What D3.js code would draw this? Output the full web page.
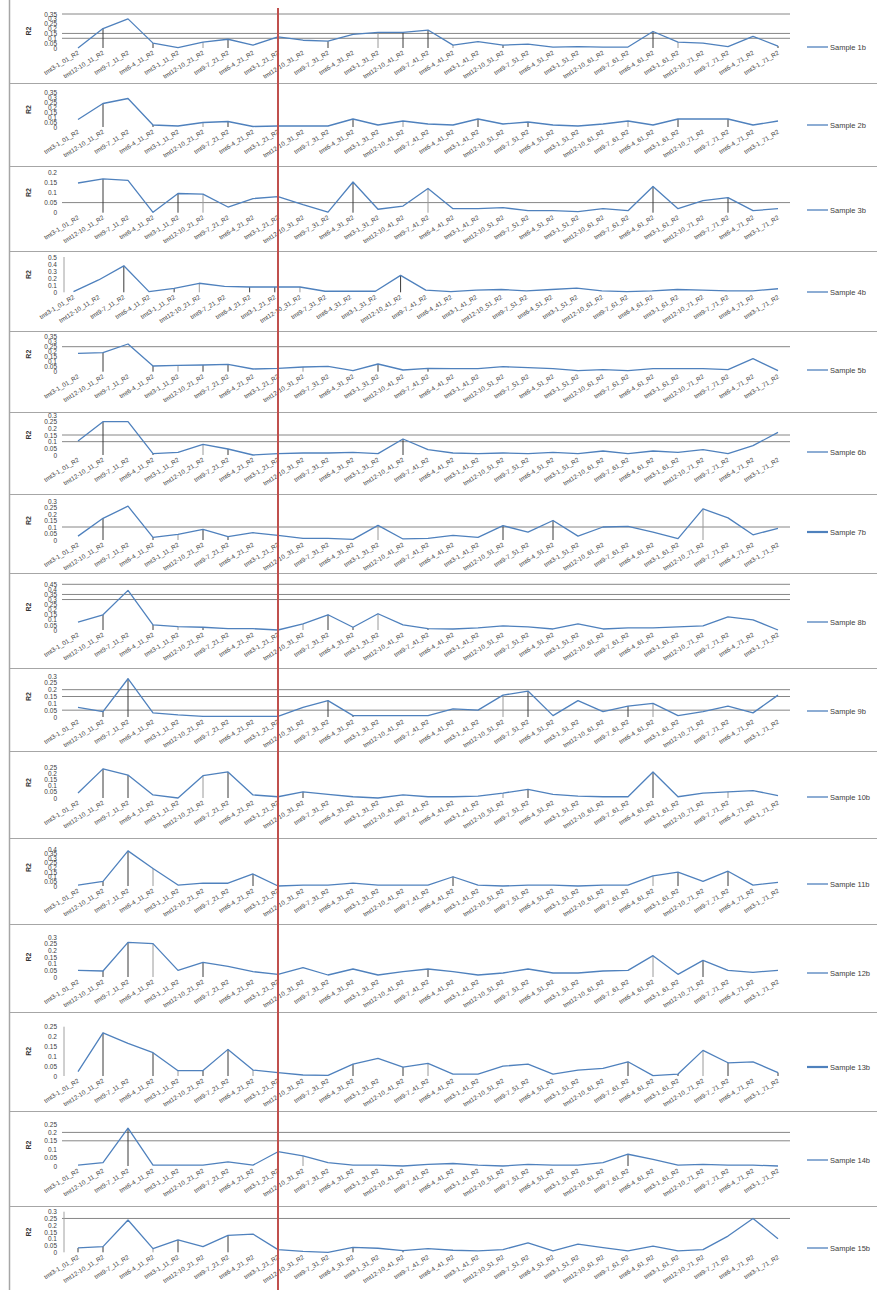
<!DOCTYPE html>
<html>
<head>
<meta charset="utf-8">
<script src="https://cdn.jsdelivr.net/npm/d3@7"></script>
<style>
  html, body { margin: 0; padding: 0; background: #fff; }
  svg { display: block; font-family: "Liberation Sans", Arial, sans-serif; }
</style>
</head>
<body>
<svg id="chart" width="877" height="1290"></svg>
<script>
// Sample names, one per stacked panel
const samples = ["Sample 1b","Sample 2b","Sample 3b","Sample 4b","Sample 5b","Sample 6b","Sample 7b",
  "Sample 8b","Sample 9b","Sample 10b","Sample 11b","Sample 12b","Sample 13b","Sample 14b","Sample 15b"];

// Run labels along the x axis (29 runs)
const pairs = ["tmt3-1","tmt12-10","tmt9-7","tmt6-4"];
const categories = d3.range(29).map(i => `${pairs[i % 4]}_${i === 0 ? "01" : (Math.ceil(i / 4) * 10 + 1)}_R2`);

// R2 values per sample
const s1  = [0,0.2,0.3,0.05,0.003,0.06,0.09,0.03,0.115,0.08,0.07,0.14,0.16,0.16,0.185,0.03,0.065,0.03,0.04,0.01,0.015,0.01,0.01,0.17,0.06,0.05,0.015,0.12,0.02];
const s2  = [0.075,0.235,0.285,0.02,0.01,0.045,0.055,0.005,0.01,0.01,0.01,0.08,0.02,0.06,0.03,0.02,0.08,0.03,0.05,0.02,0.01,0.03,0.06,0.02,0.08,0.08,0.08,0.02,0.06];
const s3  = [0.147,0.167,0.16,0.002,0.095,0.092,0.028,0.07,0.08,0.04,0.003,0.152,0.017,0.033,0.12,0.02,0.02,0.025,0.01,0.01,0.005,0.02,0.01,0.13,0.02,0.06,0.075,0.01,0.02];
const s4  = [0.01,0.175,0.375,0.01,0.057,0.128,0.085,0.075,0.075,0.075,0.015,0.015,0.015,0.24,0.03,0.01,0.03,0.04,0.02,0.04,0.06,0.02,0.01,0.02,0.04,0.03,0.02,0.02,0.05];
const s5  = [0.183,0.19,0.277,0.057,0.063,0.067,0.073,0.027,0.033,0.047,0.053,0.01,0.077,0.017,0.033,0.03,0.03,0.05,0.04,0.03,0.01,0.02,0.01,0.03,0.03,0.03,0.02,0.13,0.01];
const s6  = [0.105,0.25,0.25,0.01,0.02,0.08,0.045,0,0.01,0.015,0.015,0.02,0.01,0.12,0.04,0.015,0.01,0.015,0.01,0.02,0.01,0.03,0.01,0.03,0.02,0.04,0.01,0.07,0.17];
const s7  = [0.03,0.167,0.26,0.02,0.044,0.082,0.026,0.056,0.036,0.013,0.013,0.005,0.113,0.008,0.013,0.035,0.02,0.11,0.06,0.15,0.03,0.1,0.105,0.06,0.01,0.24,0.17,0.04,0.09];
const s8  = [0.077,0.15,0.39,0.05,0.033,0.027,0.013,0.013,0,0.06,0.15,0.027,0.16,0.05,0.013,0.01,0.02,0.04,0.03,0.01,0.06,0.01,0.02,0.02,0.03,0.04,0.13,0.1,0];
const s9  = [0.07,0.04,0.28,0.03,0.015,0.005,0.005,0.005,0.005,0.07,0.12,0.01,0.01,0.01,0.01,0.06,0.05,0.16,0.19,0.01,0.12,0.04,0.08,0.1,0.01,0.04,0.08,0.03,0.16];
const s10 = [0.04,0.235,0.185,0.025,0,0.18,0.21,0.025,0.01,0.05,0.03,0.01,0,0.025,0.01,0.01,0.015,0.04,0.07,0.03,0.015,0.01,0.01,0.21,0.01,0.04,0.05,0.06,0.02];
const s11 = [0.01,0.05,0.38,0.19,0.01,0.03,0.03,0.13,0,0.01,0.01,0.03,0.01,0.01,0.01,0.1,0.01,0,0.01,0.01,0,0.01,0.01,0.11,0.15,0.05,0.16,0.01,0.04];
const s12 = [0.05,0.045,0.26,0.25,0.05,0.11,0.08,0.04,0.02,0.07,0.015,0.06,0.015,0.04,0.06,0.04,0.015,0.03,0.06,0.03,0.03,0.045,0.05,0.16,0.02,0.125,0.05,0.035,0.05];
const s13 = [0.022,0.219,0.165,0.118,0.027,0.028,0.135,0.03,0.017,0.005,0.003,0.06,0.089,0.045,0.064,0.01,0.01,0.05,0.06,0.01,0.03,0.039,0.072,0.002,0.01,0.13,0.067,0.072,0.017];
const s14 = [0.005,0.02,0.225,0.005,0.005,0.005,0.025,0.005,0.085,0.06,0.02,0.005,0.005,0,0.01,0.015,0.005,0,0.01,0.005,0.005,0.02,0.07,0.04,0.005,0.01,0.005,0.005,0];
const s15 = [0.032,0.042,0.239,0.027,0.091,0.042,0.125,0.135,0.02,0.007,0,0.037,0.03,0.012,0.027,0.015,0.01,0.02,0.07,0.01,0.06,0.035,0.01,0.045,0.01,0.02,0.12,0.25,0.1];
const seriesValues = [s1,s2,s3,s4,s5,s6,s7,s8,s9,s10,s11,s12,s13,s14,s15];

// Top of each value axis and its tick step
const axisMax  = [0.35,0.35,0.2,0.5,0.35,0.3,0.3,0.45,0.3,0.25,0.4,0.3,0.25,0.25,0.3];
const axisStep = [0.05,0.05,0.05,0.1,0.05,0.05,0.05,0.05,0.05,0.05,0.05,0.05,0.05,0.05,0.05];
// Horizontal gridlines shown in each panel
const gridValues = [[0.35,0.15,0.1],[],[0.05],[],[0.25],[0.15,0.1],[0.1],[0.45,0.35,0.3],[0.2,0.15,0.05],[],[],[],[],[0.2,0.15],[0.25]];
// Runs that carry a drop line down to the axis
const dropRuns = [
  [1,3,5,6,10,12,13,14,15,17,23,24,28],
  [1,3,5,6,11,13,16,18,22,24,26],
  [1,4,5,8,11,14,23,26],
  [2,4,5,7,8,9,13],
  [1,3,4,5,6,9,12,14],
  [1,3,5,6,13],
  [1,3,4,5,6,12,17,19,25],
  [1,3,4,5,8,9,10,11,12,14],
  [1,2,5,10,11,17,18,22,23],
  [1,2,5,6,9,17,18,23,26],
  [1,2,3,7,15,23,24,26],
  [1,2,3,5,14,23,25],
  [1,3,4,5,6,7,11,13,14,22,24,25,26,28],
  [2,8,9,22],
  [0,1,3,4,6,8,11,13]
];

// Page layout: plot bottom/top, legend row, x range and panel separators
const layout = {
  plotBottom: [48,127,212.7,292.3,371.7,455,540,630,717,798,886,977,1076,1166,1252.3],
  plotTop:    [14,92,172.3,257,336.7,415,501,584.3,676,767,849,937,1026.7,1124,1211.7],
  legendY:    [47,125,210,292,370,452,532,622,711,797,884,973,1067,1160,1248],
  xStart:     [78,78,78,73.5,78,78,78,78,78,78,78,78,78,78,78],
  xEnd: 778, gridLeft: 62, gridRight: 790,
  separators: [83,166,251,331,412,494,573,668,751,838,924,1012,1111,1206],
  boldLegend: [6,12],
  axisLine: [3,12,14]
};

const svg = d3.select("#chart");
const lineColor = "#4f81bd";

// Frame: left border and panel separators
svg.append("line").attr("x1",9.5).attr("x2",9.5).attr("y1",0).attr("y2",1290)
  .attr("stroke","#a6a6a6").attr("stroke-width",1.5);
svg.selectAll("line.sep").data(layout.separators).join("line").attr("class","sep")
  .attr("x1",9.5).attr("x2",877).attr("y1",d=>d+0.5).attr("y2",d=>d+0.5)
  .attr("stroke","#a6a6a6").attr("stroke-width",1.2);

seriesValues.forEach((vals, p) => {
  const g = svg.append("g");
  const x = d3.scalePoint().domain(categories).range([layout.xStart[p], layout.xEnd]);
  const y = d3.scaleLinear().domain([0, axisMax[p]]).range([layout.plotBottom[p], layout.plotTop[p]]);
  const base = layout.plotBottom[p];

  // gridlines
  g.selectAll("line.grid").data(gridValues[p]).join("line")
    .attr("x1",layout.gridLeft).attr("x2",layout.gridRight)
    .attr("y1",d=>y(d)).attr("y2",d=>y(d))
    .attr("stroke","#868686").attr("stroke-width",1);

  if (layout.axisLine.includes(p)) {
    g.append("line").attr("x1",layout.gridLeft+2).attr("x2",layout.gridLeft+2)
      .attr("y1",y(axisMax[p])).attr("y2",base).attr("stroke","#a0a0a0");
  }

  // value axis tick labels
  const ticks = d3.range(0, axisMax[p] + axisStep[p]/2, axisStep[p]);
  const yAxis = d3.axisLeft(y).tickValues(ticks).tickSize(0)
    .tickFormat(d => d3.format(".2~f")(d));
  const ya = g.append("g").attr("transform",`translate(57,0)`).call(yAxis);
  ya.select(".domain").remove();
  ya.selectAll("text").attr("font-size",6.5).attr("fill","#404040").attr("x",0)
    .attr("font-family","Liberation Sans, Arial, sans-serif");

  // axis title
  g.append("text").attr("transform",`translate(31,${(base + y(axisMax[p]))/2}) rotate(-90)`)
    .attr("text-anchor","middle").attr("font-size",7).attr("font-weight","bold").attr("fill","#333")
    .text("R2");

  // drop lines
  g.selectAll("line.drop").data(dropRuns[p]).join("line")
    .attr("x1",i=>x(categories[i])).attr("x2",i=>x(categories[i]))
    .attr("y1",i=>y(vals[i])).attr("y2",base)
    .attr("stroke",(i,k)=> k % 3 === 2 ? "#9a9a9a" : "#3a3a3a").attr("stroke-width",1);

  // series line
  const line = d3.line().x((d,i)=>x(categories[i])).y(d=>y(d));
  g.append("path").datum(vals).attr("d",line)
    .attr("fill","none").attr("stroke",lineColor).attr("stroke-width",1.3).attr("stroke-linejoin","round");

  // run labels
  g.selectAll("text.cat").data(categories).join("text")
    .attr("transform",d=>`translate(${x(d)+1.5},${base+6}) rotate(-32)`)
    .attr("text-anchor","end").attr("font-size",6.3).attr("fill","#404040")
    .text(d=>d);

  // legend
  const ly = layout.legendY[p];
  g.append("line").attr("x1",807).attr("x2",828).attr("y1",ly).attr("y2",ly)
    .attr("stroke",lineColor).attr("stroke-width",layout.boldLegend.includes(p) ? 2.2 : 1.3);
  g.append("text").attr("x",830).attr("y",ly).attr("dy","0.35em")
    .attr("font-size",7.5).attr("fill","#404040").text(samples[p]);
});

// reference marker across all panels
svg.append("line").attr("x1",278).attr("x2",278).attr("y1",8).attr("y2",1290)
  .attr("stroke","#c0504d").attr("stroke-width",2);
</script>
</body>
</html>
